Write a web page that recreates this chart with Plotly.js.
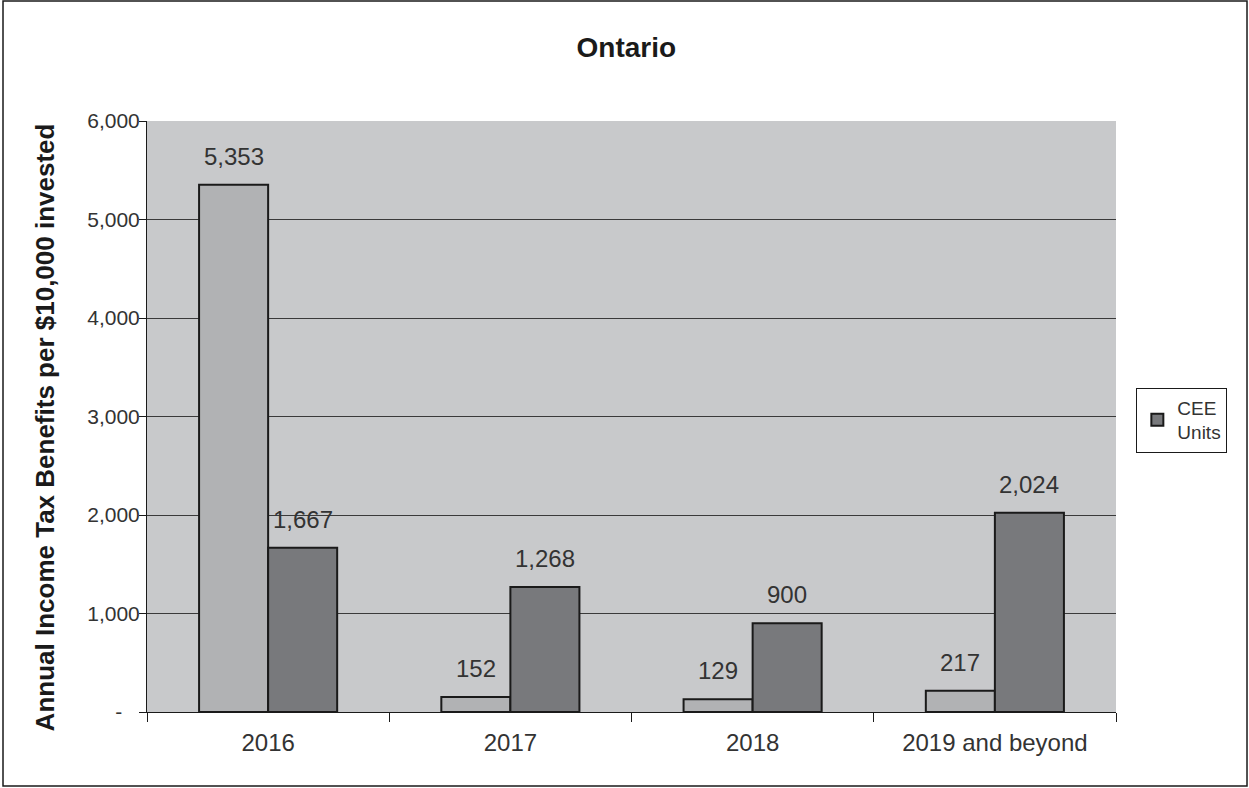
<!DOCTYPE html>
<html>
<head>
<meta charset="utf-8">
<script src="https://cdn.plot.ly/plotly-3.0.1.min.js"></script>
<style>
html,body{margin:0;padding:0;background:#fff;}
#chart{width:1249px;height:788px;}
</style>
</head>
<body>
<div id="chart"></div>
<script>
const categories = ["2016", "2017", "2018", "2019 and beyond"];
const flowThroughValues = [5353, 152, 129, 217];
const ceeUnitsValues = [1667, 1268, 900, 2024];
const yTickVals = [0, 1000, 2000, 3000, 4000, 5000, 6000];
const yTickText = ["-\u00a0\u00a0\u00a0", "1,000", "2,000", "3,000", "4,000", "5,000", "6,000"];
const yTitle = "Annual Income Tax Benefits per $10,000 invested";

const fmt = v => v.toLocaleString("en-US");
const BARGAP = 0.43;
const half = (1 - BARGAP) / 4; // offset of each bar centre from category centre

const traces = [
  {
    type: "bar",
    name: "Flow-through Shares",
    x: categories,
    y: flowThroughValues,
    marker: {color: "#b1b2b4", line: {color: "#1a1a1a", width: 2}},
    showlegend: false,
    hoverinfo: "x+y"
  },
  {
    type: "bar",
    name: "CEE<br>Units",
    x: categories,
    y: ceeUnitsValues,
    marker: {color: "#78797c", line: {color: "#1a1a1a", width: 2}},
    hoverinfo: "x+y"
  }
];

const annotations = [];
categories.forEach((c, i) => {
  annotations.push({
    x: i - half, y: flowThroughValues[i], xref: "x", yref: "y",
    text: fmt(flowThroughValues[i]), showarrow: false,
    yanchor: "bottom", yshift: 13,
    font: {size: 24, color: "#333333"}
  });
  annotations.push({
    x: i + half, y: ceeUnitsValues[i], xref: "x", yref: "y",
    text: fmt(ceeUnitsValues[i]), showarrow: false,
    yanchor: "bottom", yshift: 13,
    font: {size: 24, color: "#333333"}
  });
});
// y-axis title (drawn as rotated annotation so it can sit over the tick labels)
annotations.push({
  xref: "paper", yref: "paper", x: -0.105, y: 0.482,
  xanchor: "center", yanchor: "middle",
  text: "<b>" + yTitle + "</b>", textangle: -90, showarrow: false,
  font: {size: 26, color: "#1a1a1a"}
});

const layout = {
  width: 1249,
  height: 788,
  margin: {l: 147, r: 133, t: 121, b: 76, pad: 0},
  paper_bgcolor: "#ffffff",
  plot_bgcolor: "#c8c9cb",
  font: {family: "Liberation Sans, Arial, sans-serif", size: 21, color: "#333333"},
  title: {
    text: "<b>Ontario</b>",
    x: 0.5015, xanchor: "center",
    y: 0.94, yanchor: "middle",
    font: {size: 28, color: "#1a1a1a"}
  },
  barmode: "group",
  bargap: BARGAP,
  bargroupgap: 0,
  xaxis: {
    type: "category",
    showline: true, linecolor: "#1a1a1a", linewidth: 1,
    ticks: "outside", ticklen: 9, tickcolor: "#1a1a1a",
    tickson: "boundaries",
    ticklabelstandoff: 9,
    showgrid: false,
    tickfont: {size: 24, color: "#333333"},
    fixedrange: true
  },
  yaxis: {
    range: [0, 6000],
    tickvals: yTickVals,
    ticktext: yTickText,
    showline: true, linecolor: "#1a1a1a", linewidth: 1,
    ticks: "outside", ticklen: 7, tickcolor: "#1a1a1a",
    ticklabelstandoff: -5,
    showgrid: true, gridcolor: "#3a3a3a", gridwidth: 1,
    zeroline: false,
    tickfont: {size: 21, color: "#333333"},
    automargin: false,
    fixedrange: true
  },
  legend: {
    x: 1.021, xanchor: "left",
    y: 0.494, yanchor: "middle",
    bordercolor: "#1a1a1a", borderwidth: 1,
    bgcolor: "#ffffff",
    font: {size: 19, color: "#333333"},
    itemwidth: 30
  },
  annotations: annotations,
  shapes: [
    {
      type: "rect", xref: "paper", yref: "paper",
      x0: -0.1486, x1: 1.1352, y0: -0.1252, y1: 1.2030,
      line: {color: "#1a1a1a", width: 1.5},
      fillcolor: "rgba(0,0,0,0)", layer: "below"
    }
  ]
};

Plotly.newPlot("chart", traces, layout, {displayModeBar: false, staticPlot: true});
</script>
</body>
</html>
